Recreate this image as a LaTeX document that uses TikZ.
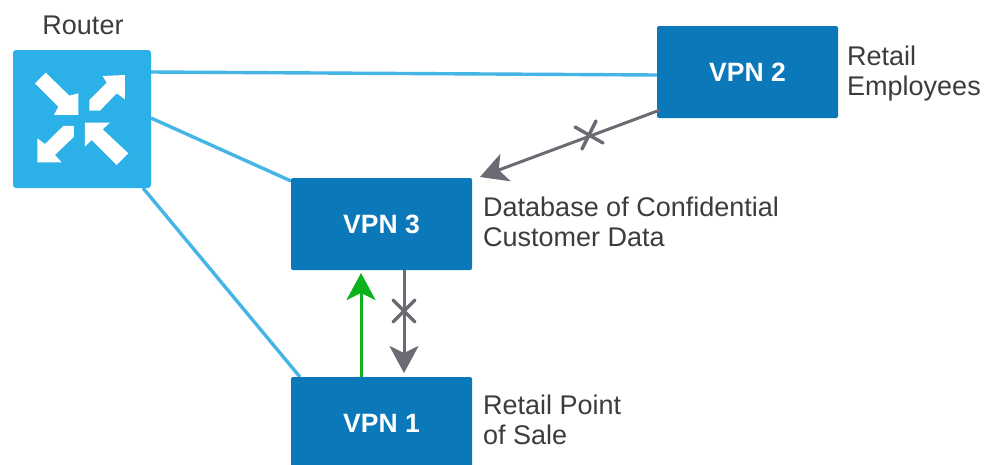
\documentclass[tikz,border=0pt]{standalone}
\usepackage{fontspec}
\setmainfont{Liberation Sans}
\usetikzlibrary{arrows.meta,backgrounds}
\definecolor{routerblue}{HTML}{2CB0E8}
\definecolor{linkblue}{HTML}{45B5E6}
\definecolor{vpnblue}{HTML}{0B78BA}
\definecolor{arrowgrey}{HTML}{6A6B73}
\definecolor{okgreen}{HTML}{0DB31C}
\definecolor{textgrey}{HTML}{3C3C3C}
\tikzset{
  vpnbox/.style={fill=vpnblue,rounded corners=2pt,minimum width=181pt,minimum height=92pt,inner sep=0pt,text=white,font=\fontsize{26.5}{30}\selectfont\bfseries},
  routerbox/.style={fill=routerblue,rounded corners=3pt,minimum width=138pt,minimum height=138pt,inner sep=0pt},
  caption/.style={text=textgrey,inner sep=0pt,align=left,font=\fontsize{27}{30}\selectfont},
  link/.style={draw=linkblue,line width=3.4pt},
  denied/.style={draw=arrowgrey,line width=3pt,-{Stealth[length=27pt,width=29pt,inset=7pt]}},
  allowed/.style={draw=okgreen,line width=3pt,-{Stealth[length=27pt,width=29pt,inset=7pt]}},
  crossmark/.style={draw=arrowgrey,line width=3.4pt,line cap=round},
  iconarrow/.style={fill=white,draw=none}
}
\begin{document}
\begin{tikzpicture}[x=1pt,y=-1pt]
\path[use as bounding box] (0,0) rectangle (990,464);
\clip (0,0) rectangle (990,464);
% nodes
\node[routerbox] (router) at (82,119) {};
\node[vpnbox] (vpn2) at (747.5,72) {VPN 2};
\node[vpnbox] (vpn3) at (381.5,224) {VPN 3};
\node[vpnbox] (vpn1) at (381.5,423) {VPN 1};
% labels
\node[caption,anchor=center] (lrouter) at (83,25) {Router};
\node[caption,anchor=west] (lvpn2) at (847,74) {Retail\\Employees};
\node[caption,anchor=west] (lvpn3) at (483,222) {Database of Confidential\\Customer Data};
\node[caption,anchor=west] (lvpn1) at (483,420) {Retail Point\\of Sale};
% router icon
\begin{scope}[x=0.3333pt,y=-0.3333pt]
\fill[iconarrow] (105,250)--(137,218)--(208,287)--(235,280)--(235,345)--(162,345)--(175,320)--cycle;
\fill[iconarrow] (375,225)--(375,298)--(350,280)--(300,332)--(268,332)--(268,300)--(320,248)--(308,228)--cycle;
\fill[iconarrow] (112,487)--(112,415)--(135,432)--(190,378)--(222,378)--(222,410)--(165,465)--(185,487)--cycle;
\fill[iconarrow] (255,368)--(330,368)--(308,388)--(385,460)--(350,495)--(275,420)--(255,440)--cycle;
\end{scope}
% connector end points
\coordinate (r2) at (151,72);
\coordinate (v2) at (657,75);
\coordinate (r3) at (151,118);
\coordinate (v3) at (291,181);
\coordinate (r1) at (143,188);
\coordinate (v1) at (300,377);
\coordinate (g1) at (361,377);
\coordinate (g3) at (361,273);
\coordinate (d3a) at (404,270);
\coordinate (d1a) at (404,373);
\coordinate (d2b) at (660,110);
\coordinate (d3b) at (480,177);
\coordinate (xa) at (404,311);
\coordinate (xb) at (590,134);
% connectors
\begin{scope}[on background layer]
\fill[white] (0,0) rectangle (990,464);
\draw[link] (r2) -- (v2);
\draw[link] (r3) -- (v3);
\draw[link] (r1) -- (v1);
\end{scope}
\draw[allowed] (g1) -- (g3);
\draw[denied] (d3a) -- (d1a);
\draw[denied] (d2b) -- (d3b);
\draw[crossmark] ([shift={(-11,-11)}]xa) -- ([shift={(11,11)}]xa);
\draw[crossmark] ([shift={(-11,11)}]xa) -- ([shift={(11,-11)}]xa);
\draw[crossmark] ([shift={(-15,-7)}]xb) -- ([shift={(13,9)}]xb);
\draw[crossmark] ([shift={(6,-13)}]xb) -- ([shift={(-8,15)}]xb);
\end{tikzpicture}
\end{document}
